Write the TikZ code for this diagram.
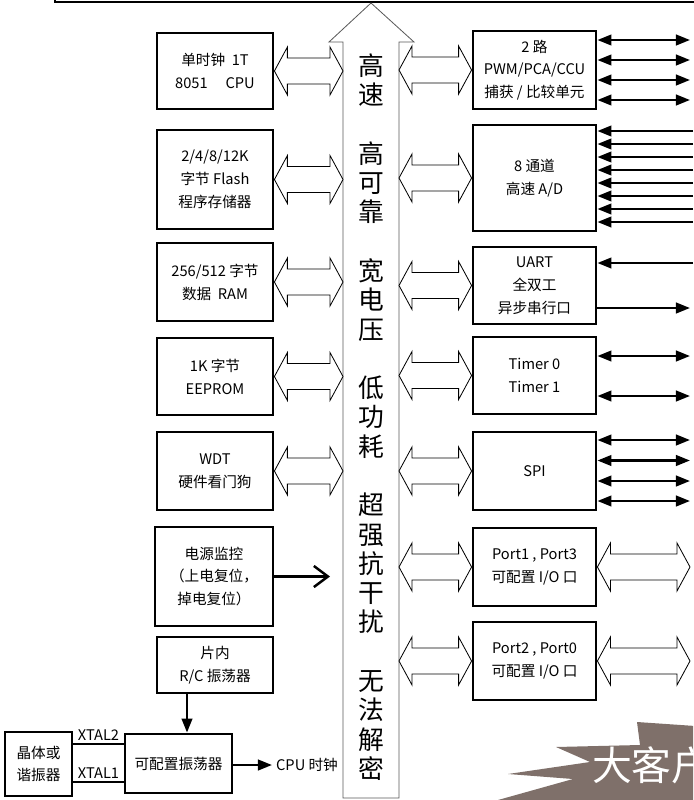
\documentclass[tikz,border=0pt]{standalone}
\usepackage{fontspec}
\setmainfont{Noto Sans CJK SC}
\usetikzlibrary{arrows.meta,calc}

\definecolor{burst}{RGB}{127,112,106}

% hollow double arrow between two points on one level
\newcommand{\hollowarrow}[2]{%
  \draw[hollow] (#1) -- ++(13,-24) -- ++(0,11) -- ($(#2)+(-13,-13)$) -- ++(0,-11) -- (#2)
    -- ++(-13,24) -- ++(0,-11) -- ($(#1)+(13,13)$) -- ++(0,11) -- cycle;}

\begin{document}
\begin{tikzpicture}[x=0.3mm,y=-0.3mm,
    blk/.style={draw,line width=2.4pt,align=center,inner sep=0pt,
      font=\fontsize{12.5}{19.5}\selectfont},
    sz/.style 2 args={minimum width=#1*0.3mm,minimum height=#2*0.3mm},
    hollow/.style={draw,line width=0.7pt,fill=white},
    pin/.style={line width=2.1pt},
    >={Triangle[length=12pt,width=9pt]}]
			\useasboundingbox (0,0) rectangle (693,800);

			% top edge and bus
			\draw[line width=2.4pt] (55,0) -- (55,2) -- (700,2);
			\draw[line width=0.7pt,gray!70!black] (343,798) -- (343,42) -- (329,42) -- (371,3)
			  -- (414,42) -- (399,42) -- (399,798) -- cycle;
			\coordinate (busL) at (343,0);
			\coordinate (busR) at (399,0);
			\coordinate (edge) at (690,0);
			\node[align=center,font=\fontsize{22}{25}\selectfont] (bustext) at (371,417)
			  {高\\速\\[25pt]高\\可\\靠\\[25pt]宽\\电\\压\\[25pt]低\\功\\耗\\[25pt]超\\强\\抗\\干\\扰\\[25pt]无\\法\\解\\密};

			% blocks on the left
			\node[blk,sz={116}{76}] (cpu) at (215,71) {单时钟 \ 1T\\8051 \quad CPU};
			\node[blk,sz={116}{99}] (flash) at (215,179.5) {2/4/8/12K\\字节 Flash\\程序存储器};
			\node[blk,sz={116}{78}] (ram) at (215,282) {256/512 字节\\数据 \ RAM};
			\node[blk,sz={116}{77}] (eeprom) at (215,376.5) {1K 字节\\EEPROM};
			\node[blk,sz={116}{78}] (wdt) at (215,471) {WDT\\硬件看门狗};
			\node[blk,sz={118}{99}] (pwr) at (214,576.5) {电源监控\\（上电复位，\\掉电复位）};
			\node[blk,sz={116}{56}] (rc) at (215,665) {片内\\R/C 振荡器};
			\node[blk,sz={107}{59}] (osc) at (178.5,763.5) {可配置振荡器};
			\node[blk,sz={67}{64}] (xtal) at (38.5,764) {晶体或\\谐振器};

			% blocks on the right
			\node[blk,sz={123}{78}] (pwm) at (534.5,70) {2 路\\PWM/PCA/CCU\\捕获 / 比较单元};
			\node[blk,sz={123}{106}] (adc) at (534.5,178) {8 通道\\高速 A/D};
			\node[blk,sz={123}{77}] (uart) at (534.5,285.5) {UART\\全双工\\异步串行口};
			\node[blk,sz={123}{77}] (timer) at (534.5,375.5) {Timer 0\\Timer 1};
			\node[blk,sz={123}{78}] (spi) at (534.5,471) {SPI};
			\node[blk,sz={123}{78}] (pa) at (534.5,567) {Port1 , Port3\\可配置 I/O 口};
			\node[blk,sz={123}{78}] (pb) at (534.5,661) {Port2 , Port0\\可配置 I/O 口};

			% hollow arrows to the bus
			\hollowarrow{cpu.east}{cpu.east -| busL}
			\hollowarrow{flash.east}{flash.east -| busL}
			\hollowarrow{ram.east}{ram.east -| busL}
			\hollowarrow{eeprom.east}{eeprom.east -| busL}
			\hollowarrow{wdt.east}{wdt.east -| busL}
			\hollowarrow{pwm.west -| busR}{pwm.west}
			\hollowarrow{adc.west -| busR}{adc.west}
			\hollowarrow{uart.west -| busR}{uart.west}
			\hollowarrow{timer.west -| busR}{timer.west}
			\hollowarrow{spi.west -| busR}{spi.west}
			\hollowarrow{pa.west -| busR}{pa.west}
			\hollowarrow{pb.west -| busR}{pb.west}

			% ports out
			\hollowarrow{pa.east}{pa.east -| edge}
			\hollowarrow{pb.east}{pb.east -| edge}

			% pins on the right
			\foreach \y in {40,60,80,100}
			  \draw[pin,<->] (pwm.east |- 0,\y) -- (edge |- 0,\y);
			\foreach \y in {131,144,...,222}
			  \draw[pin,->] (693,\y) -- (adc.east |- 0,\y);
			\draw[pin,->] (693,263) -- (uart.east |- 0,263);
			\draw[pin,->] (uart.east |- 0,308) -- (edge |- 0,308);
			\foreach \y in {356,396}
			  \draw[pin,<->] (timer.east |- 0,\y) -- (edge |- 0,\y);
			\foreach \y in {440,460.5,481,501}
			  \draw[pin,<->] (spi.east |- 0,\y) -- (edge |- 0,\y);

			% reset and clock
			\coordinate (pwrend) at (330,576.5);
			\draw[pin,-{Straight Barb[length=12pt,width=18pt]}] (pwr.east) -- (pwrend);
			\coordinate (clkx) at (187,0);
			\draw[pin,->] (rc.south -| clkx) -- (osc.north -| clkx);
			\node[font=\fontsize{12.5}{14}\selectfont,anchor=west] (cpuclk) at (272,765) {CPU 时钟};
			\draw[pin,->] (osc.east |- cpuclk.west) -- (cpuclk.west);
			\coordinate (x2) at (0,744);
			\coordinate (x1) at (0,782);
			\draw[pin] (xtal.east |- x2) -- node[above=-1pt,font=\fontsize{12.5}{14}\selectfont] {XTAL2} (osc.west |- x2);
			\draw[pin] (xtal.east |- x1) -- node[above=-1pt,font=\fontsize{12.5}{14}\selectfont] {XTAL1} (osc.west |- x1);

			% burst in the corner
			\begin{scope}
			  \clip (0,0) rectangle (693,800);
			  \fill[burst] (637,722) -- (710,727) -- (710,815) -- (520,815) -- (498,800) -- (573,779)
			    -- (508,774) -- (590,762) -- (556,747) -- (640,745) -- cycle;
			  \node[white,anchor=west,font=\fontsize{34}{36}\selectfont] (big) at (588,765) {大客户};
			\end{scope}
		\end{tikzpicture}
\end{document}
